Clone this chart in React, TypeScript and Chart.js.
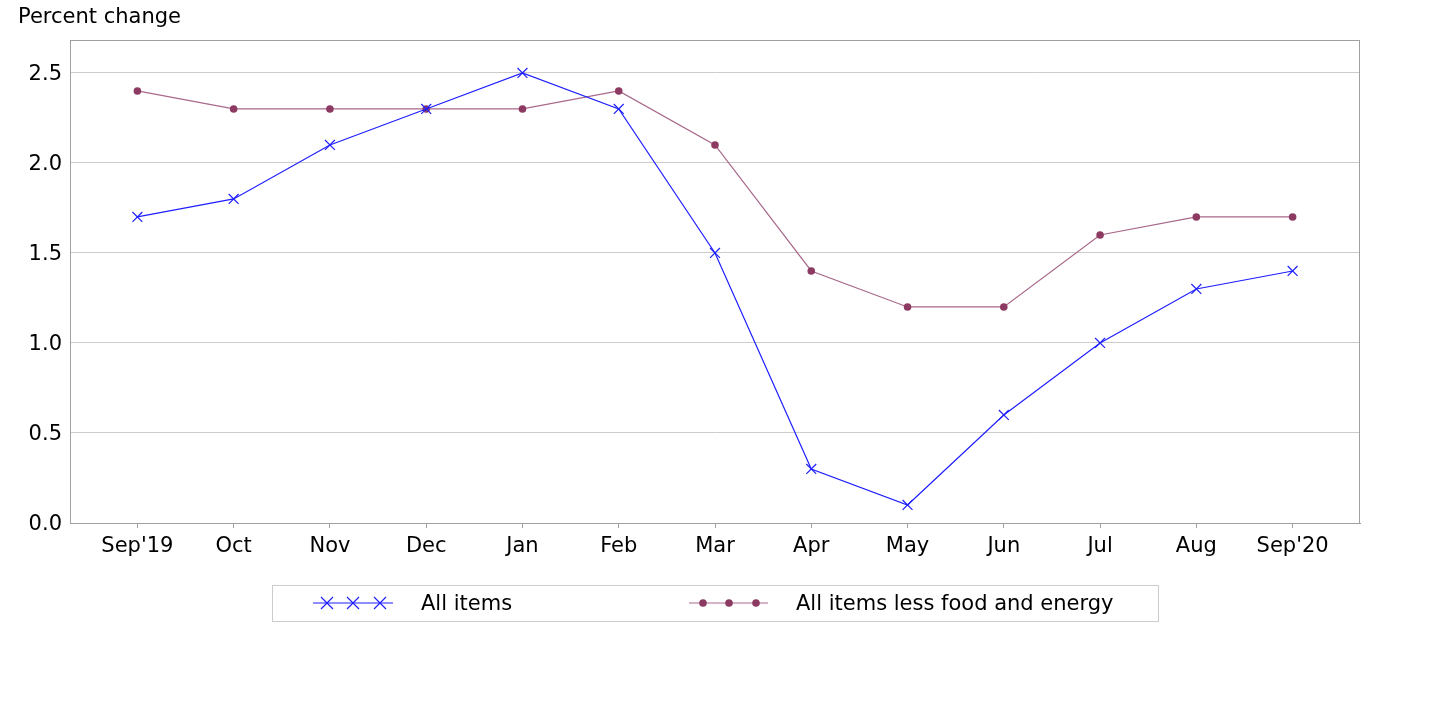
import React, { useEffect, useRef } from "react";
import { Chart, registerables } from "chart.js";

Chart.register(...registerables);

const categories = ["Sep'19", "Oct", "Nov", "Dec", "Jan", "Feb", "Mar", "Apr", "May", "Jun", "Jul", "Aug", "Sep'20"];
const allItems = [1.7, 1.8, 2.1, 2.3, 2.5, 2.3, 1.5, 0.3, 0.1, 0.6, 1.0, 1.3, 1.4];
const coreItems = [2.4, 2.3, 2.3, 2.3, 2.3, 2.4, 2.1, 1.4, 1.2, 1.2, 1.6, 1.7, 1.7];
const seriesNames = ["All items", "All items less food and energy"];
const yTitle = "Percent change";

const FONT = "'DejaVu Sans', sans-serif";
const BLUE = "#1f1fff";
const MAROON = "#8d3a63";
const MAROON_LINE = "#a8688a";

const decorPlugin = {
  id: "decor",
  afterDraw(chart: any) {
    const { ctx, chartArea } = chart;
    ctx.save();
    // frame
    ctx.strokeStyle = "#a0a0a0";
    ctx.lineWidth = 1;
    ctx.strokeRect(chartArea.left + 0.5, chartArea.top + 0.5, chartArea.right - chartArea.left - 1, chartArea.bottom - chartArea.top);
    // title
    ctx.fillStyle = "#000";
    ctx.font = `21px ${FONT}`;
    ctx.textBaseline = "middle";
    ctx.textAlign = "left";
    ctx.fillText(yTitle, 18, 18);
    // legend box
    ctx.strokeStyle = "#cccccc";
    ctx.strokeRect(272.5, 585.5, 886, 36);
    const ly = 603;
    // series 1 sample
    ctx.strokeStyle = BLUE;
    ctx.lineWidth = 1.2;
    ctx.beginPath();
    ctx.moveTo(313, ly);
    ctx.lineTo(393, ly);
    ctx.stroke();
    [327, 353, 380].forEach((x) => {
      ctx.beginPath();
      ctx.moveTo(x - 6, ly - 6);
      ctx.lineTo(x + 6, ly + 6);
      ctx.moveTo(x + 6, ly - 6);
      ctx.lineTo(x - 6, ly + 6);
      ctx.stroke();
    });
    // series 2 sample
    ctx.strokeStyle = MAROON_LINE;
    ctx.beginPath();
    ctx.moveTo(689, ly);
    ctx.lineTo(768, ly);
    ctx.stroke();
    ctx.fillStyle = MAROON;
    [703, 729, 756].forEach((x) => {
      ctx.beginPath();
      ctx.arc(x, ly, 3.8, 0, Math.PI * 2);
      ctx.fill();
    });
    ctx.fillStyle = "#000";
    ctx.font = `21px ${FONT}`;
    ctx.fillText(seriesNames[0], 421, ly + 2);
    ctx.fillText(seriesNames[1], 796, ly + 2);
    ctx.restore();
  },
};

export default function App() {
  const ref = useRef<HTMLCanvasElement>(null);
  useEffect(() => {
    if (!ref.current) return;
    const chart = new Chart(ref.current, {
      type: "line",
      data: {
        datasets: [
          {
            label: seriesNames[0],
            data: allItems.map((v, i) => ({ x: i, y: v })),
            borderColor: BLUE,
            backgroundColor: BLUE,
            borderWidth: 1.2,
            pointStyle: "crossRot",
            pointRadius: 7,
            pointBorderWidth: 1.2,
            pointBorderColor: BLUE,
            pointBackgroundColor: BLUE,
            tension: 0,
          },
          {
            label: seriesNames[1],
            data: coreItems.map((v, i) => ({ x: i, y: v })),
            borderColor: MAROON_LINE,
            backgroundColor: MAROON,
            borderWidth: 1.2,
            pointStyle: "circle",
            pointRadius: 3.8,
            pointBorderWidth: 0,
            pointBackgroundColor: MAROON,
            tension: 0,
          },
        ],
      },
      options: {
        animation: false,
        responsive: false,
        layout: { padding: { left: 0, right: 70, top: 40, bottom: 0 } },
        plugins: { legend: { display: false }, tooltip: { enabled: false } },
        scales: {
          x: {
            type: "linear",
            min: -0.7,
            max: 12.7,
            afterFit: (s: any) => { s.height = 191; },
            ticks: {
              stepSize: 1,
              includeBounds: false,
              autoSkip: false,
              maxRotation: 0,
              padding: 6,
              color: "#000",
              font: { family: FONT, size: 21 },
              callback: (v: any) => (Number.isInteger(v) && categories[v] !== undefined ? categories[v] : ""),
            },
            grid: { drawOnChartArea: false, drawTicks: true, tickLength: 5, color: "#a0a0a0" },
            border: { display: true, color: "#a0a0a0" },
          },
          y: {
            min: 0,
            max: 2.683,
            afterFit: (s: any) => { s.width = 70; },
            ticks: {
              stepSize: 0.5,
              includeBounds: false,
              padding: 8,
              labelOffset: 2,
              color: "#000",
              font: { family: FONT, size: 21 },
              callback: (v: any) => Number(v).toFixed(1),
            },
            grid: { color: "#cccccc", drawTicks: false, lineWidth: 1 },
            border: { display: true, color: "#a0a0a0" },
          },
        },
      },
      plugins: [decorPlugin],
    });
    return () => chart.destroy();
  }, []);
  return (
    <div style={{ position: "absolute", left: 0, top: 0, width: 1430, height: 714, background: "#fff" }}>
      <canvas ref={ref} width={1430} height={714} style={{ width: 1430, height: 714, display: "block" }} />
    </div>
  );
}
